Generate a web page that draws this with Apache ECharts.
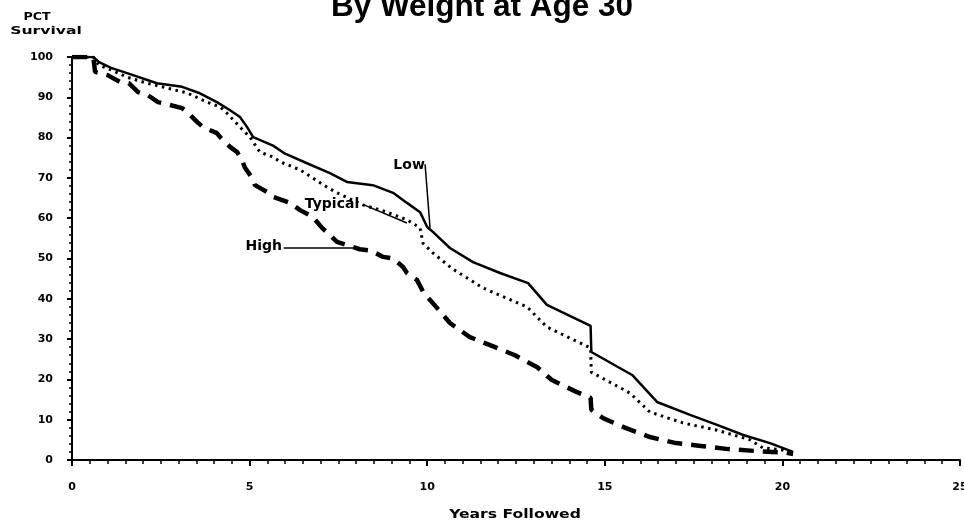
<!DOCTYPE html>
<html>
<head>
<meta charset="utf-8">
<script src="https://cdn.jsdelivr.net/npm/echarts@6/dist/echarts.min.js"></script>
<style>
html,body{margin:0;padding:0;background:#fff;}
#chart{width:964px;height:521px;}
</style>
</head>
<body>
<div id="chart"></div>
<script>
// Values: [years followed, percent surviving]
var lowData = [[0,100],[0.6,100],[0.75,98.8],[1.1,97.3],[1.55,96],[2.39,93.5],[3.1,92.6],[3.6,91],[4.08,88.8],[4.45,86.8],[4.73,85.1],[4.93,82.6],[5.1,80.1],[5.66,78],[6.0,76],[6.6,73.7],[7.26,71.2],[7.74,69],[8.47,68.2],[9.04,66.3],[9.43,63.8],[9.8,61.5],[10.0,57.8],[10.16,56.6],[10.64,52.6],[11.29,49.1],[12.05,46.4],[12.84,43.9],[13.37,38.5],[14.6,33.3],[14.62,26.8],[15.77,21.1],[16.47,14.4],[17.4,11.2],[18.16,8.7],[18.9,6.2],[19.65,4.2],[20.3,2]];
var typicalData = [[0,100],[0.6,100],[0.75,98],[1.1,96.8],[1.55,95],[2.11,93.5],[2.67,92.3],[3.24,91.1],[3.8,88.8],[4.17,87.6],[4.36,86.1],[4.73,82.6],[5.01,80.1],[5.29,76.4],[5.66,75.2],[5.86,74],[6.42,72],[7.18,67.7],[7.46,66.3],[8.19,63.3],[8.87,61.5],[9.43,59.6],[9.8,57.6],[9.88,53.8],[10.16,51.4],[10.7,47.5],[11.57,42.7],[12.81,38],[13.37,33],[14.6,27.8],[14.62,21.8],[15.71,16.6],[16.27,11.9],[17.2,9.2],[18.16,7.4],[19.09,5],[19.45,3],[20.0,2.5],[20.3,1.8]];
var highData = [[0,100],[0.6,100],[0.65,96.3],[1.0,95.5],[1.35,93.8],[1.6,93.5],[1.86,91.3],[2.14,90.5],[2.42,88.8],[2.62,88.4],[3.1,87.3],[3.24,86.4],[3.52,83.9],[3.69,82.6],[4.08,81.1],[4.17,80.1],[4.45,77.7],[4.65,76.4],[4.81,73.9],[4.87,72.5],[5.07,70],[5.15,68.2],[5.49,66.5],[5.66,65.3],[6.14,63.8],[6.42,62],[6.78,60.3],[7.04,57.6],[7.2,56.3],[7.46,54.1],[7.74,53.3],[8.1,52.3],[8.4,52],[8.76,50.4],[9.04,50],[9.32,47.9],[9.43,46.4],[9.71,44.7],[9.9,41.5],[10.1,39.5],[10.3,37.5],[10.64,34],[11.2,30.5],[11.77,28.5],[12.47,26],[13.1,23],[13.5,19.9],[14.2,16.9],[14.6,15.4],[14.62,12.5],[14.95,10.4],[15.6,7.9],[16.27,5.7],[17.0,4.2],[17.7,3.5],[18.47,2.7],[19.3,2.2],[20.1,1.8],[20.3,1.5]];

// Curve labels: text position and leader line (data coordinates)
var labelNames = ['Low', 'Typical', 'High'];
var labelPos = [[9.49,73.2],[7.32,63.5],[5.4,52.9]];
var leaderLines = [[[9.94,73.4],[10.08,57.6]],[[8.22,63.3],[9.43,58.8]],[[5.96,52.6],[8.1,52.6]]];

var xTicks = {min:0, max:25, interval:5};
var yTicks = {min:0, max:100, interval:10};

var chart = echarts.init(document.getElementById('chart'), null, {renderer:'canvas'});
var tickFont = 'DejaVu Sans';

function makeSeries(name, data, idx, lineStyle) {
  return {
    name: name,
    type: 'line',
    data: data,
    showSymbol: false,
    symbol: 'none',
    lineStyle: lineStyle,
    silent: true,
    markPoint: {
      symbol: 'circle', symbolSize: 1,
      itemStyle: {color: 'rgba(0,0,0,0)'},
      label: {show: true, position: 'inside', formatter: labelNames[idx], color: '#000',
              fontFamily: tickFont, fontWeight: 'bold', fontSize: 14},
      data: [{coord: labelPos[idx]}]
    },
    markLine: {
      symbol: ['none','none'],
      silent: true,
      label: {show: false},
      lineStyle: {color: '#000', width: 1.5, type: 'solid'},
      data: [[{coord: leaderLines[idx][0]}, {coord: leaderLines[idx][1]}]]
    }
  };
}

var option = {
  animation: false,
  backgroundColor: '#fff',
  title: [{
    text: 'By Weight at Age 30',
    left: 'center',
    top: -14,
    textStyle: {fontFamily: 'Liberation Sans', fontWeight: 'bold', fontSize: 31.5, color: '#000'}
  }],
  graphic: [
    {type: 'text', x: 37, y: 12, scaleX: 1.15,
     style: {text: 'PCT', fill: '#000', font: 'bold 11px "DejaVu Sans"', textAlign: 'center', textVerticalAlign: 'top'}},
    {type: 'text', x: 46, y: 26, scaleX: 1.42,
     style: {text: 'Survival', fill: '#000', font: 'bold 11px "DejaVu Sans"', textAlign: 'center', textVerticalAlign: 'top'}},
    {type: 'text', x: 515, y: 509, scaleX: 1.3,
     style: {text: 'Years Followed', fill: '#000', font: 'bold 12px "DejaVu Sans"', textAlign: 'center', textVerticalAlign: 'top'}}
  ],
  grid: {left: 72, right: 4, top: 57, bottom: 61, containLabel: false, outerBoundsMode: 'none'},
  xAxis: {
    type: 'value', min: xTicks.min, max: xTicks.max, interval: xTicks.interval,
    axisLine: {show: true, onZero: false, lineStyle: {color: '#000', width: 2}},
    axisTick: {show: true, length: 6, lineStyle: {color: '#000', width: 2}},
    minorTick: {show: true, splitNumber: 10, length: 4, lineStyle: {color: '#000', width: 1.5}},
    splitLine: {show: false},
    axisLabel: {margin: 22, color: '#000', fontFamily: tickFont, fontWeight: 'bold', fontSize: 11, showMaxLabel: true, hideOverlap: false}
  },
  yAxis: {
    type: 'value', min: yTicks.min, max: yTicks.max, interval: yTicks.interval,
    offset: 6,
    axisLine: {show: true, lineStyle: {color: '#000', width: 2}},
    axisTick: {show: true, length: 5, lineStyle: {color: '#000', width: 2}},
    minorTick: {show: true, splitNumber: 5, length: 3, lineStyle: {color: '#000', width: 1.5}},
    splitLine: {show: false},
    axisLabel: {margin: 13, color: '#000', fontFamily: tickFont, fontWeight: 'bold', fontSize: 11}
  },
  series: [
    makeSeries('Low', lowData, 0, {color: '#000', width: 2.5, type: 'solid'}),
    makeSeries('Typical', typicalData, 1, {color: '#000', width: 3, type: [2.5, 4.5], cap: 'butt'}),
    makeSeries('High', highData, 2, {color: '#000', width: 4.5, type: [15, 9], cap: 'butt'})
  ]
};
chart.setOption(option);
</script>
</body>
</html>
